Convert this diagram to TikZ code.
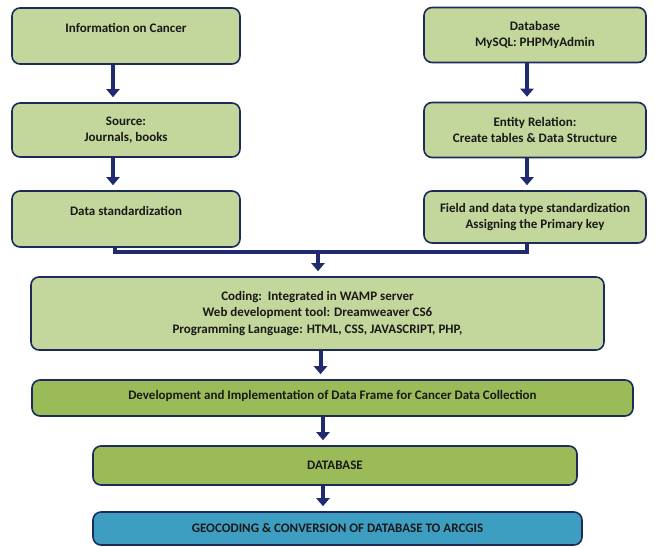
\documentclass[tikz,border=0pt]{standalone}
\usepackage{fontspec}
\setmainfont{Carlito}
\usepackage{tikz}
\usetikzlibrary{arrows.meta,positioning,calc}
\definecolor{navy}{HTML}{1C2A5C}
\definecolor{arrowblue}{HTML}{1F2B6E}
\definecolor{paleolive}{HTML}{C3D69B}
\definecolor{olive}{HTML}{9BBB59}
\definecolor{aqua}{HTML}{3E9EC2}

\begin{document}
\begin{tikzpicture}[x=1pt, y=-1pt,
		box/.style={draw=navy, line width=1.6pt, rounded corners=8pt, fill=paleolive, align=center, text=black!90,
			font=\bfseries\fontsize{13}{16.5}\selectfont, inner sep=0pt},
		topbox/.style={box, text depth=17pt},
		arr/.style={draw=arrowblue, line width=4pt, -{Triangle[width=13pt,length=8pt]}, shorten >=5pt},
		link/.style={draw=arrowblue, line width=4pt}]
		\useasboundingbox (0,0) rectangle (655,547);
		% left column
		\node[topbox, minimum width=228pt, minimum height=56pt] (info) at (126,36) {Information on Cancer};
		\node[box, minimum width=228pt, minimum height=54pt] (src) at (126,130) {Source:\\Journals, books};
		\node[topbox, minimum width=228pt, minimum height=56pt] (std) at (126,219) {Data standardization};
		% right column
		\node[box, minimum width=222pt, minimum height=55pt] (mysql) at (535,35) {Database\\MySQL: PHPMyAdmin};
		\node[box, minimum width=222pt, minimum height=55pt] (er) at (535,130) {Entity Relation:\\Create tables \& Data Structure};
		\node[box, minimum width=222pt, minimum height=52pt] (fld) at (535,217) {Field and data type standardization\\Assigning the Primary key};
		% lower chain
		\node[box, minimum width=573pt, minimum height=73pt] (code) at (317.5,313.5)
			{Coding:\ \ Integrated in WAMP server\\Web development tool: Dreamweaver CS6\\Programming Language: HTML, CSS, JAVASCRIPT, PHP,};
		\node[box, fill=olive, minimum width=601pt, minimum height=36pt, text depth=6pt] (dev) at (332.5,398)
			{Development and Implementation of Data Frame for Cancer Data Collection};
		\node[box, fill=olive, minimum width=484pt, minimum height=39pt] (db) at (335,465.5) {DATABASE};
		\node[box, fill=aqua, minimum width=489pt, minimum height=33pt] (geo) at (337.5,528.5)
			{GEOCODING \& CONVERSION OF DATABASE TO ARCGIS};

		\draw[arr] ([xshift=-13pt]info.south) -- ([xshift=-13pt]src.north);
		\draw[arr] ([xshift=-13pt]src.south) -- ([xshift=-13pt]std.north);
		\draw[arr] ([xshift=-8pt]mysql.south) -- ([xshift=-8pt]er.north);
		\draw[arr] ([xshift=-8pt]er.south) -- ([xshift=-8pt]fld.north);

		\coordinate (join) at (318,252);
		\draw[link] ([xshift=-11pt]std.south) |- (join) -| ([xshift=-8pt]fld.south);
		\draw[arr] (join) -- (join |- code.north);
		\draw[arr] ([xshift=3pt]code.south) -- ([xshift=3pt]code.south |- dev.north);
		\draw[arr] ([xshift=-12pt]db.north |- dev.south) -- ([xshift=-12pt]db.north);
		\draw[arr] ([xshift=-12pt]db.south) -- ([xshift=-12pt]db.south |- geo.north);
	\end{tikzpicture}
\end{document}
